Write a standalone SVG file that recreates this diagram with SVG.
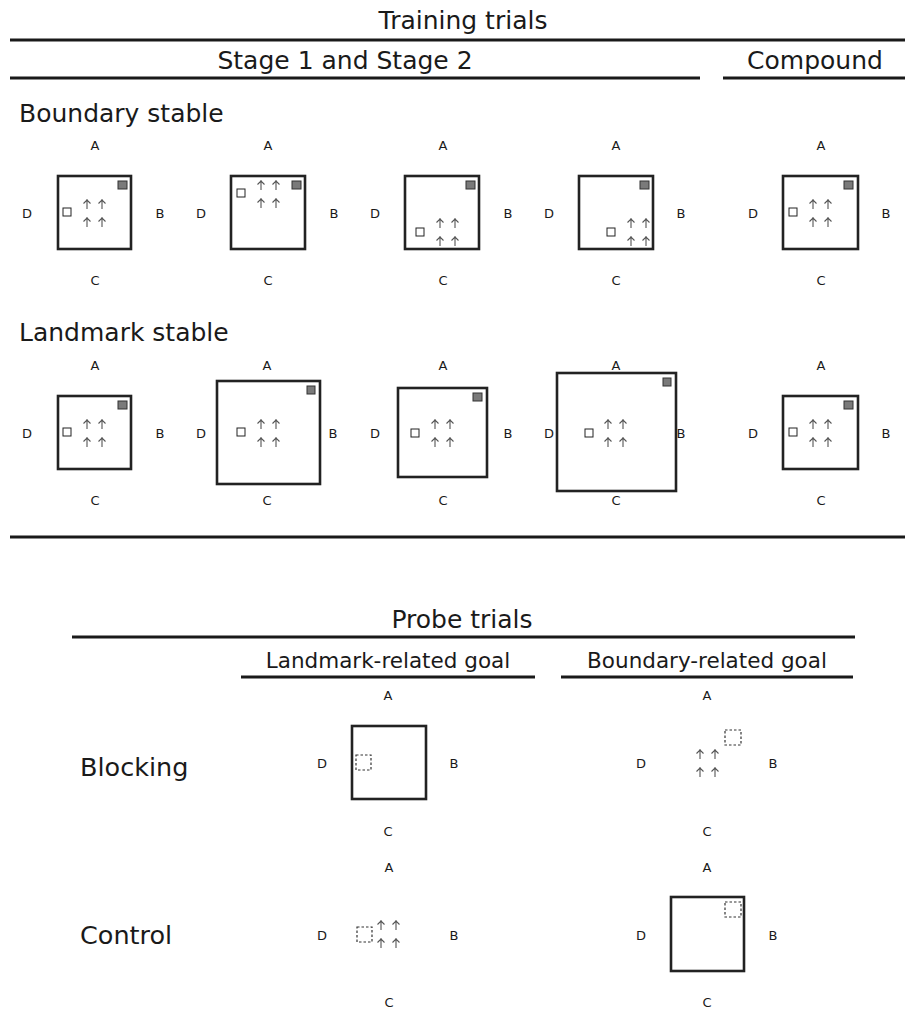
<svg xmlns="http://www.w3.org/2000/svg" xmlns:xlink="http://www.w3.org/1999/xlink" width="906" height="1031" viewBox="0 0 906 1031">
<style>
text{font-family:"DejaVu Sans","Verdana",sans-serif;fill:#1a1a1a}
.h{font-size:25px;text-anchor:middle}
.r{font-size:25px}
.s{font-size:21.5px;text-anchor:middle}
.b{font-size:25.5px}
.l{font-size:13px;text-anchor:middle;dominant-baseline:central}
.rule{stroke:#1a1a1a;stroke-width:3}
.box{fill:none;stroke:#222;stroke-width:2.6}
.g{fill:#7a7a7a;stroke:#333;stroke-width:1}
.w{fill:#fff;stroke:#222;stroke-width:1}
.d{fill:none;stroke:#333;stroke-width:1.2;stroke-dasharray:2.5 2}
.t{fill:none;stroke:#555;stroke-width:1.1}
</style>
<defs>
<g id="tree"><path class="t" d="M0,-5V5M-3.5,-0.5L0,-4L3.5,-0.5"/></g>
<g id="trees"><use xlink:href="#tree" x="0" y="0"/><use xlink:href="#tree" x="15" y="0"/><use xlink:href="#tree" x="0" y="18"/><use xlink:href="#tree" x="15" y="18"/></g>
</defs>
<g id="headers">
<text class="h" x="463" y="29">Training trials</text>
<line class="rule" x1="10" y1="40" x2="905" y2="40"/>
<text class="h" x="345" y="69">Stage 1 and Stage 2</text>
<line class="rule" x1="10" y1="78" x2="700" y2="78"/>
<text class="h" x="815" y="69">Compound</text>
<line class="rule" x1="723" y1="78" x2="905" y2="78"/>
<text class="r" x="19" y="122">Boundary stable</text>
<text class="r" x="19" y="341">Landmark stable</text>
<line class="rule" x1="10" y1="537" x2="905" y2="537"/>
<text class="h" x="462" y="628">Probe trials</text>
<line class="rule" x1="72" y1="637" x2="855" y2="637"/>
<text class="s" x="388" y="668">Landmark-related goal</text>
<line class="rule" x1="241" y1="677" x2="535" y2="677"/>
<text class="s" x="707" y="668">Boundary-related goal</text>
<line class="rule" x1="561" y1="677" x2="853" y2="677"/>
<text class="b" x="80" y="776">Blocking</text>
<text class="b" x="80" y="944">Control</text>
</g>
<g id="bs1">
<text class="l" x="95" y="145">A</text><text class="l" x="27" y="213">D</text><text class="l" x="160" y="213">B</text><text class="l" x="95" y="280">C</text>
<rect class="box" x="58" y="176" width="73" height="73"/>
<rect class="g" x="118" y="181" width="9" height="8"/>
<rect class="w" x="63" y="208" width="8" height="8"/>
<use xlink:href="#trees" x="87" y="204"/>
</g>
<g id="bs2">
<text class="l" x="268" y="145">A</text><text class="l" x="201" y="213">D</text><text class="l" x="334" y="213">B</text><text class="l" x="268" y="280">C</text>
<rect class="box" x="231" y="176" width="74" height="73"/>
<rect class="g" x="292" y="181" width="9" height="8"/>
<rect class="w" x="237" y="189" width="8" height="8"/>
<use xlink:href="#trees" x="261" y="185"/>
</g>
<g id="bs3">
<text class="l" x="443" y="145">A</text><text class="l" x="375" y="213">D</text><text class="l" x="508" y="213">B</text><text class="l" x="443" y="280">C</text>
<rect class="box" x="405" y="176" width="74" height="73"/>
<rect class="g" x="466" y="181" width="9" height="8"/>
<rect class="w" x="416" y="228" width="8" height="8"/>
<use xlink:href="#trees" x="440" y="223"/>
</g>
<g id="bs4">
<text class="l" x="616" y="145">A</text><text class="l" x="549" y="213">D</text><text class="l" x="681" y="213">B</text><text class="l" x="616" y="280">C</text>
<rect class="box" x="579" y="176" width="74" height="73"/>
<rect class="g" x="640" y="181" width="9" height="8"/>
<rect class="w" x="607" y="228" width="8" height="8"/>
<use xlink:href="#trees" x="631" y="223"/>
</g>
<g id="bs5">
<text class="l" x="821" y="145">A</text><text class="l" x="753" y="213">D</text><text class="l" x="886" y="213">B</text><text class="l" x="821" y="280">C</text>
<rect class="box" x="783" y="176" width="75" height="73"/>
<rect class="g" x="844" y="181" width="9" height="8"/>
<rect class="w" x="789" y="208" width="8" height="8"/>
<use xlink:href="#trees" x="813" y="204"/>
</g>
<g id="ls1">
<text class="l" x="95" y="365">A</text><text class="l" x="27" y="433">D</text><text class="l" x="160" y="433">B</text><text class="l" x="95" y="500">C</text>
<rect class="box" x="58" y="396" width="73" height="73"/>
<rect class="g" x="118" y="401" width="9" height="8"/>
<rect class="w" x="63" y="428" width="8" height="8"/>
<use xlink:href="#trees" x="87" y="424"/>
</g>
<g id="ls2">
<text class="l" x="267" y="365">A</text><text class="l" x="201" y="433">D</text><text class="l" x="333" y="433">B</text><text class="l" x="267" y="500">C</text>
<rect class="box" x="217" y="381" width="103" height="103"/>
<rect class="g" x="307" y="386" width="8" height="8"/>
<rect class="w" x="237" y="428" width="8" height="8"/>
<use xlink:href="#trees" x="261" y="424"/>
</g>
<g id="ls3">
<text class="l" x="443" y="365">A</text><text class="l" x="375" y="433">D</text><text class="l" x="508" y="433">B</text><text class="l" x="443" y="500">C</text>
<rect class="box" x="398" y="388" width="89" height="89"/>
<rect class="g" x="473" y="393" width="9" height="8"/>
<rect class="w" x="411" y="429" width="8" height="8"/>
<use xlink:href="#trees" x="435" y="424"/>
</g>
<g id="ls4">
<text class="l" x="616" y="365">A</text><text class="l" x="549" y="433">D</text><text class="l" x="681" y="433">B</text><text class="l" x="616" y="500">C</text>
<rect class="box" x="557" y="373" width="119" height="118"/>
<rect class="g" x="663" y="378" width="8" height="8"/>
<rect class="w" x="585" y="429" width="8" height="8"/>
<use xlink:href="#trees" x="608" y="424"/>
</g>
<g id="ls5">
<text class="l" x="821" y="365">A</text><text class="l" x="753" y="433">D</text><text class="l" x="886" y="433">B</text><text class="l" x="821" y="500">C</text>
<rect class="box" x="783" y="396" width="75" height="73"/>
<rect class="g" x="844" y="401" width="9" height="8"/>
<rect class="w" x="789" y="428" width="8" height="8"/>
<use xlink:href="#trees" x="813" y="424"/>
</g>
<g id="pb1">
<text class="l" x="388" y="695">A</text><text class="l" x="322" y="763">D</text><text class="l" x="454" y="763">B</text><text class="l" x="388" y="831">C</text>
<rect class="box" x="352" y="726" width="74" height="73"/>
<rect class="d" x="356" y="755" width="15" height="15"/>
</g>
<g id="pb2">
<text class="l" x="707" y="695">A</text><text class="l" x="641" y="763">D</text><text class="l" x="773" y="763">B</text><text class="l" x="707" y="831">C</text>
<rect class="d" x="725" y="730" width="16" height="15"/>
<use xlink:href="#trees" x="700" y="754"/>
</g>
<g id="pc1">
<text class="l" x="389" y="867">A</text><text class="l" x="322" y="935">D</text><text class="l" x="454" y="935">B</text><text class="l" x="389" y="1002">C</text>
<rect class="d" x="357" y="927" width="15" height="15"/>
<use xlink:href="#trees" x="381" y="925"/>
</g>
<g id="pc2">
<text class="l" x="707" y="867">A</text><text class="l" x="641" y="935">D</text><text class="l" x="773" y="935">B</text><text class="l" x="707" y="1002">C</text>
<rect class="box" x="671" y="897" width="73" height="74"/>
<rect class="d" x="725" y="902" width="16" height="15"/>
</g>
<g id="connectors"></g>
</svg>
